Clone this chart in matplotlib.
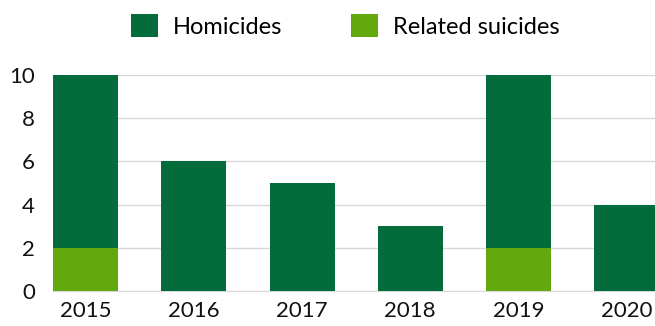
import matplotlib.pyplot as plt

years = ['2015', '2016', '2017', '2018', '2019', '2020']
suicides = [2, 0, 0, 0, 2, 0]
homicides = [8, 6, 5, 3, 8, 4]

dark = '#046b3a'
light = '#64a80f'

plt.rcParams['font.family'] = ['Lato', 'DejaVu Sans']

fig = plt.figure(figsize=(6.55, 3.26), dpi=100)
ax = fig.add_axes([53/655, 1 - 291/326, 602/655, 216/326])

x = range(len(years))
ax.bar(x, suicides, width=0.6, color=light, label='Related suicides', zorder=3)
ax.bar(x, homicides, width=0.6, bottom=suicides, color=dark, label='Homicides', zorder=3)

ax.set_xlim(-0.3, 5.26)
ax.set_ylim(0, 10)
ax.set_yticks(range(0, 11, 2))
ax.set_xticks(list(x))
ax.set_xticklabels(years)
ax.grid(axis='y', color='#d9d9d9', linewidth=1, zorder=0)
for s in ['top', 'right', 'left']:
    ax.spines[s].set_visible(False)
ax.spines['bottom'].set_color('#d9d9d9')
ax.tick_params(axis='both', length=0, labelsize=16, colors='#111111')
ax.tick_params(axis='y', pad=13)
ax.tick_params(axis='x', pad=7)

h, l = ax.get_legend_handles_labels()
fig.legend(h[::-1], l[::-1], loc='center left', bbox_to_anchor=(110/655, 1 - 26/326),
           ncol=2, frameon=False, fontsize=17, handlelength=1.14, handleheight=1.14,
           handletextpad=0.64, columnspacing=2.9)

fig.savefig('out.png', dpi=100)
